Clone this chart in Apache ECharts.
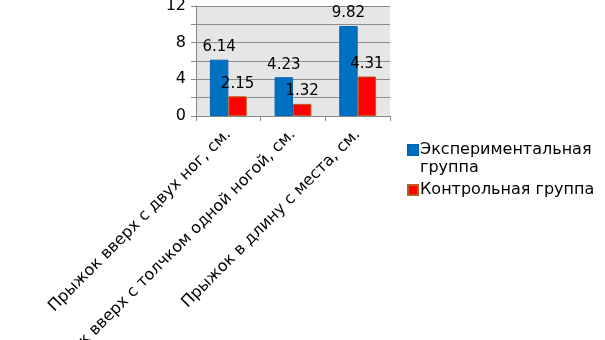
<!DOCTYPE html>
<html><head><meta charset="utf-8">
<script src="https://cdn.jsdelivr.net/npm/echarts@6/dist/echarts.min.js"></script>
<style>html,body{margin:0;padding:0;background:#fff}#c{width:605px;height:340px}</style>
</head><body><div id="c"></div>
<script>
const categories = ['Прыжок вверх с двух ног, см.', 'Прыжок вверх с толчком одной ногой, см.', 'Прыжок в длину с места, см.'];
const seriesNames = ['Экспериментальная\nгруппа', 'Контрольная группа'];
const experimental = [6.14, 4.23, 9.82];
const control = [2.15, 1.32, 4.31];
const yTicks = [0, 4, 8, 12];

const chart = echarts.init(document.getElementById('c'), null, {renderer: 'canvas'});
const font = 'DejaVu Sans';
chart.setOption({
  animation: false,
  textStyle: {fontFamily: font},
  grid: {left: 196, right: 215, top: 6, bottom: 224, show: true, backgroundColor: '#e6e6e6', borderWidth: 0,
         containLabel: false, outerBoundsMode: 'none'},
  legend: {
    orient: 'vertical', left: 402, top: 118, itemWidth: 10, itemHeight: 10, itemGap: 4,
    icon: 'rect',
    // a leading blank line keeps the marker level with the first line of a two-line name
    formatter: name => name.indexOf('\n') >= 0 ? '\n' + name : name,
    textStyle: {fontFamily: font, fontSize: 16, color: '#000', lineHeight: 18, padding: [0,0,0,-3]},
    data: seriesNames
  },
  xAxis: {
    type: 'category', data: categories,
    axisLine: {lineStyle: {color: '#888'}},
    axisTick: {show: true, length: 5, lineStyle: {color: '#888'}},
    axisLabel: {rotate: 45, interval: 0, fontFamily: font, fontSize: 16, color: '#000', margin: 16}
  },
  yAxis: {
    type: 'value', min: 0, max: 12, interval: 2,
    axisLine: {show: true, lineStyle: {color: '#888'}},
    axisTick: {show: true, length: 5, lineStyle: {color: '#888'}},
    splitLine: {lineStyle: {color: '#8c8c8c'}},
    axisLabel: {fontFamily: font, fontSize: 16, color: '#000', margin: 10,
      formatter: v => yTicks.includes(v) ? String(v) : ''}
  },
  series: [
    {name: seriesNames[0], type: 'bar', data: experimental, barGap: '0%', barCategoryGap: '43%',
     itemStyle: {color: '#0070C0', borderColor: '#0066b3', borderWidth: 1},
     label: {show: true, position: 'top', fontFamily: font, fontSize: 15, color: '#000', distance: 5}},
    {name: seriesNames[1], type: 'bar', data: control,
     itemStyle: {color: '#FF0000', borderColor: '#b8601e', borderWidth: 1},
     label: {show: true, position: 'top', fontFamily: font, fontSize: 15, color: '#000', distance: 5}}
  ]
});
</script></body></html>
